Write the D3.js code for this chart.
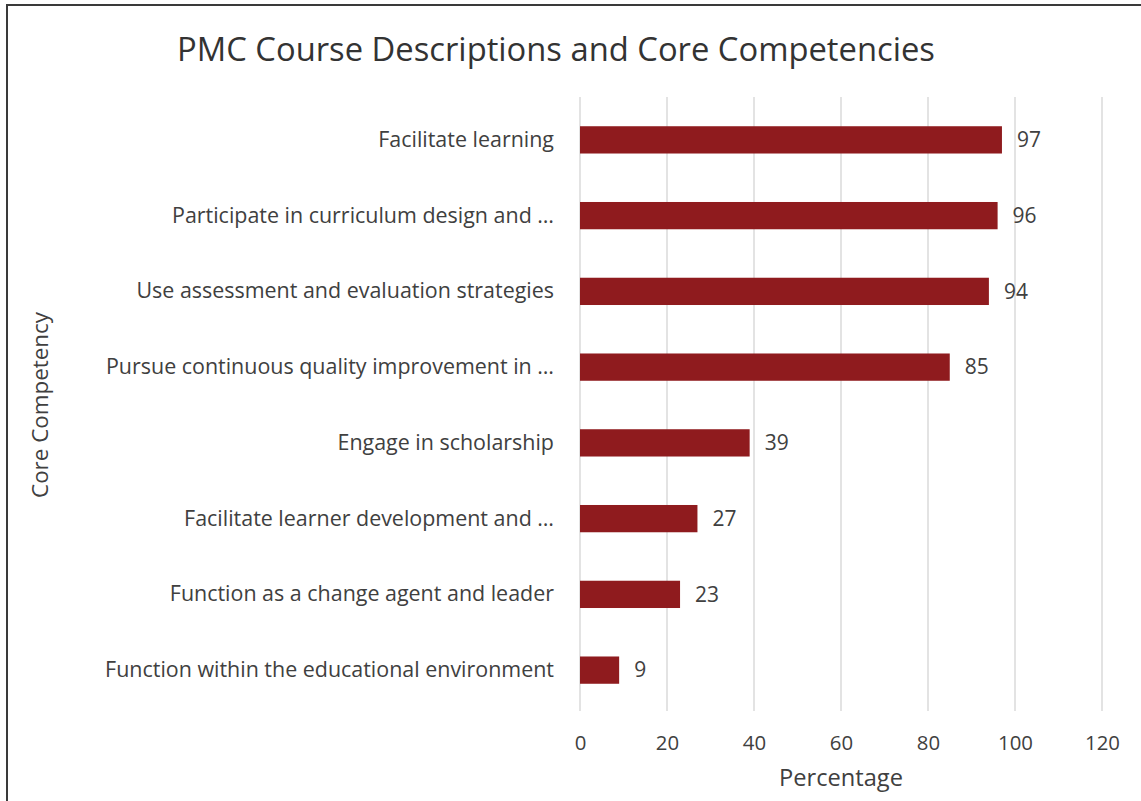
<!DOCTYPE html>
<html>
<head>
<meta charset="utf-8">
<script src="https://cdn.jsdelivr.net/npm/d3@7"></script>
<style>
  html, body { margin: 0; padding: 0; background: #fff; }
  svg { display: block; }
  text { font-family: "Open Sans", Lato, sans-serif; }
</style>
</head>
<body>
<svg id="chart" width="1141" height="801"></svg>
<script>
const title = "PMC Course Descriptions and Core Competencies";
const xAxisTitle = "Percentage";
const yAxisTitle = "Core Competency";
const categories = [
  "Facilitate learning",
  "Participate in curriculum design and \u2026",
  "Use assessment and evaluation strategies",
  "Pursue continuous quality improvement in \u2026",
  "Engage in scholarship",
  "Facilitate learner development and \u2026",
  "Function as a change agent and leader",
  "Function within the educational environment"
];
const values = [97, 96, 94, 85, 39, 27, 23, 9];
const xTicks = [0, 20, 40, 60, 80, 100, 120];

const svg = d3.select("#chart");
const W = 1141, H = 801;
const textColor = "#404040";
const barColor = "#8f1b1e";
const font = "'Open Sans', Lato, sans-serif";

// fit a text selection's font-size so the widest item reaches a target width
function fitWidth(sel, target, base) {
  let maxW = 0;
  sel.each(function () { maxW = Math.max(maxW, this.getComputedTextLength()); });
  if (maxW > 0) sel.attr("font-size", base * target / maxW);
}

// border
svg.append("rect").attr("x", 7).attr("y", 5).attr("width", W + 10).attr("height", H + 10)
  .attr("fill", "none").attr("stroke", "#3a3a3a").attr("stroke-width", 2);

const plot = { left: 580, right: 1102, top: 102, bottom: 708 };

const x = d3.scaleLinear().domain([0, 120]).range([plot.left, plot.right]);
const y = d3.scaleBand().domain(categories).range([plot.top, plot.bottom]).paddingInner(0.64).paddingOuter(0.32);

// gridlines
svg.append("g").selectAll("line").data(xTicks).join("line")
  .attr("x1", d => x(d)).attr("x2", d => x(d))
  .attr("y1", 97).attr("y2", 711)
  .attr("stroke", "#d0d0d0").attr("stroke-width", 1.2);

// x axis tick labels
const xAxis = d3.axisBottom(x).tickValues(xTicks).tickSize(0).tickPadding(0);
const gx = svg.append("g").attr("transform", `translate(0, 736)`).call(xAxis);
gx.select(".domain").remove();
const xLabels = gx.selectAll("text").attr("font-size", 17).attr("fill", textColor)
  .attr("font-family", font);
fitWidth(xLabels, 35, 17);

// y axis category labels
const yAxis = d3.axisLeft(y).tickSize(0).tickPadding(0);
const gy = svg.append("g").attr("transform", `translate(554, 0)`).call(yAxis);
gy.select(".domain").remove();
const yLabels = gy.selectAll("text").attr("font-size", 17).attr("fill", textColor)
  .attr("font-family", font);
fitWidth(yLabels, 449, 17);

// bars
svg.append("g").selectAll("rect").data(values).join("rect")
  .attr("x", x(0))
  .attr("y", (d, i) => y(categories[i]))
  .attr("width", d => x(d) - x(0))
  .attr("height", y.bandwidth())
  .attr("fill", barColor);

// value labels
const vLabels = svg.append("g").selectAll("text").data(values).join("text")
  .attr("x", d => x(d) + 15)
  .attr("y", (d, i) => y(categories[i]) + y.bandwidth() / 2)
  .attr("dy", "0.35em")
  .attr("font-size", 17).attr("fill", textColor)
  .text(d => d);
fitWidth(vLabels, 24, 17);

// title
const t = svg.append("text").attr("x", 556).attr("y", 61).attr("text-anchor", "middle")
  .attr("font-size", 27).attr("fill", "#333333").text(title);
fitWidth(t, 758, 27);

// x axis title
const xt = svg.append("text").attr("x", 841).attr("y", 786).attr("text-anchor", "middle")
  .attr("font-size", 19).attr("fill", textColor).text(xAxisTitle);
fitWidth(xt, 124, 19);

// y axis title
const yt = svg.append("text").attr("transform", "translate(48, 405) rotate(-90)")
  .attr("text-anchor", "middle").attr("font-size", 19).attr("fill", textColor).text(yAxisTitle);
fitWidth(yt, 186, 19);
</script>
</body>
</html>
